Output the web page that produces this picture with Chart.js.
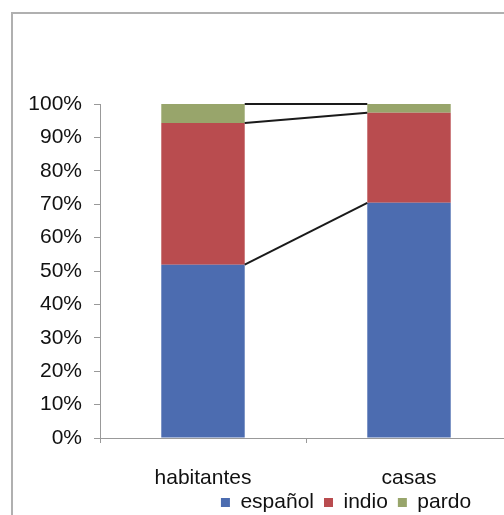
<!DOCTYPE html>
<html>
<head>
<meta charset="utf-8">
<script src="https://cdn.jsdelivr.net/npm/chart.js@4"></script>
<style>
  html, body { margin: 0; padding: 0; background: #fff; overflow: hidden; }
  #wrap { width: 504px; height: 515px; overflow: hidden; }
</style>
</head>
<body>
<div id="wrap"><canvas id="chart" width="520" height="515"></canvas></div>
<script>
const categories = ['habitantes', 'casas'];
const espanol = [51.9, 70.4];
const indio = [42.4, 27.0];
const pardo = [5.7, 2.6];
const yTicks = [0, 10, 20, 30, 40, 50, 60, 70, 80, 90, 100];

Chart.defaults.font.family = "'Liberation Sans', Arial, sans-serif";
Chart.defaults.font.size = 21;
Chart.defaults.color = '#111';

// grey frame round the chart, like the original box
const framePlugin = {
  id: 'frame',
  beforeDraw(chart) {
    const ctx = chart.ctx;
    ctx.save();
    ctx.strokeStyle = '#b0b0b0';
    ctx.lineWidth = 2;
    ctx.beginPath();
    ctx.moveTo(12, chart.height + 5);
    ctx.lineTo(12, 13);
    ctx.lineTo(chart.width + 5, 13);
    ctx.stroke();
    ctx.restore();
  }
};

// Excel style series lines joining the segment tops
const seriesLines = {
  id: 'seriesLines',
  afterDatasetsDraw(chart) {
    const ctx = chart.ctx;
    ctx.save();
    ctx.strokeStyle = '#1a1a1a';
    ctx.lineWidth = 2;
    chart.data.datasets.forEach((ds, i) => {
      const bars = chart.getDatasetMeta(i).data;
      for (let k = 0; k < bars.length - 1; k++) {
        const a = bars[k], b = bars[k + 1];
        ctx.beginPath();
        ctx.moveTo(a.x + a.width / 2, a.y);
        ctx.lineTo(b.x - b.width / 2, b.y);
        ctx.stroke();
      }
    });
    ctx.restore();
  }
};

// move legend under the right part of the chart
const legendShift = {
  id: 'legendShift',
  afterLayout(chart) {
    const lg = chart.legend;
    if (!lg) return;
    const dx = 346 - (lg.left + lg.right) / 2;
    const dy = 482 - lg.top;
    lg.left += dx;
    lg.right += dx;
    lg.top += dy;
    lg.bottom += dy;
  }
};

new Chart(document.getElementById('chart'), {
  type: 'bar',
  data: {
    labels: categories,
    datasets: [
      { label: 'español', data: espanol, backgroundColor: '#4c6cb0' },
      { label: 'indio', data: indio, backgroundColor: '#b94c4f' },
      { label: 'pardo', data: pardo, backgroundColor: '#98a56b' }
    ]
  },
  options: {
    responsive: false,
    animation: false,
    layout: { padding: { top: 104, right: 8, left: 0, bottom: -14 } },
    datasets: {
      bar: { categoryPercentage: 1, barPercentage: 0.405 }
    },
    scales: {
      x: {
        stacked: true,
        offset: true,
        grid: { offset: true, drawOnChartArea: false, drawTicks: true, tickLength: 5, color: '#999' },
        border: { color: '#999', width: 1 },
        ticks: { padding: 23, color: '#111' },
        afterFit(scale) { scale.height = 50; }
      },
      y: {
        stacked: true,
        min: 0,
        max: 100,
        afterBuildTicks(scale) { scale.ticks = yTicks.map(v => ({ value: v })); },
        grid: { drawOnChartArea: false, drawTicks: true, tickLength: 6, color: '#999' },
        border: { color: '#999', width: 1 },
        ticks: { padding: 12, color: '#111', callback: v => v + '%' },
        afterFit(scale) { scale.width = 100; }
      }
    },
    plugins: {
      tooltip: { enabled: false },
      legend: {
        position: 'bottom',
        align: 'center',
        labels: { boxWidth: 9, boxHeight: 9, padding: 10, color: '#111' }
      }
    }
  },
  plugins: [framePlugin, seriesLines, legendShift]
});
</script>
</body>
</html>
